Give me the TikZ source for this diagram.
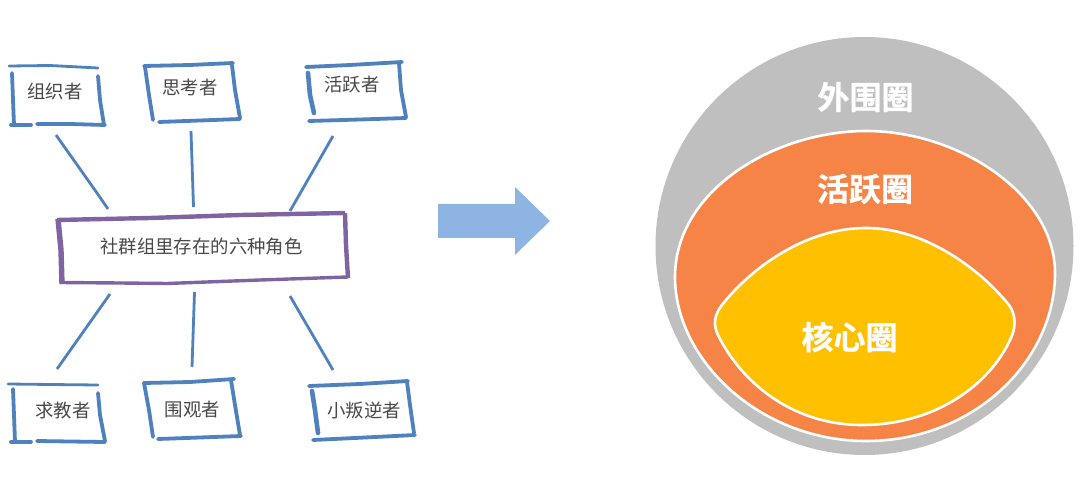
\documentclass[tikz,border=0pt]{standalone}
\usepackage{fontspec}
\newfontfamily\cjk{Noto Sans CJK SC}
\newfontfamily\cjkb[FakeBold=0.8]{Noto Sans CJK SC Bold}
\definecolor{skblue}{HTML}{4F81BD}
\definecolor{skpurple}{HTML}{8064A2}
\definecolor{ringgray}{HTML}{BFBFBF}
\definecolor{ringorange}{HTML}{F68446}
\definecolor{ringgold}{HTML}{FFC000}
\definecolor{arrowblue}{HTML}{8EB4E3}
\definecolor{labeltext}{HTML}{484848}
\tikzset{
  role/.style={font=\cjk\fontsize{18.4}{18.4}\selectfont,text=labeltext,inner sep=0pt},
  ringlabel/.style={font=\cjkb\fontsize{32}{32}\selectfont,text=white,inner sep=0pt},
  sk/.style={draw=skblue,line width=3.8pt,line cap=round,line join=round},
  skthin/.style={draw=skblue,line width=2.8pt,line cap=round,line join=round},
  skfat/.style={draw=skblue,line width=4.6pt,line cap=round,line join=round},
  skp/.style={draw=skpurple,line width=4.4pt,line join=round},
  skpfat/.style={draw=skpurple,line width=5.4pt,line join=round},
  skpthin/.style={draw=skpurple,line width=3.4pt,line join=round},
  link/.style={draw=skblue,line width=2.8pt,line cap=butt,line join=round},
  ring/.style={draw=white,line width=2.6pt}
}
\begin{document}
\begin{tikzpicture}[x=1pt,y=-1pt]
\useasboundingbox (0,0) rectangle (1080,481);
% link end points
\coordinate (o1) at (56,135);  \coordinate (h1) at (108,209);
\coordinate (t1) at (191,131); \coordinate (h2) at (193.5,207);
\coordinate (a1) at (333,136); \coordinate (h3) at (290,211);
\coordinate (h4) at (110,294); \coordinate (q1) at (57,369);
\coordinate (h5) at (194.5,292); \coordinate (w1) at (192,367);
\coordinate (h6) at (290,296); \coordinate (r1) at (333,370);
% box 组织者
\draw[skthin] (9,66) -- (50,65.5) -- (98,68);
\draw[sk] (12,73) -- (13,100) -- (14,125);
\draw[sk] (11,125) -- (31,125);
\draw[sk] (37,124) -- (70,124) -- (105,125);
\draw[sk] (98,76) -- (100,100) -- (104,125);
% box 思考者
\draw[sk] (144,66) -- (190,65) -- (233,63);
\draw[sk] (145,67) -- (149,95) -- (153,120);
\draw[sk] (159,122) -- (200,120.5) -- (240,119);
\draw[sk] (232,65) -- (235,90) -- (240,118);
% box 活跃者
\draw[sk] (306,67) -- (350,65) -- (402,62);
\draw[skfat] (308,73) -- (310,95) -- (314,113);
\draw[sk] (309,121) -- (360,119.5) -- (406,118);
\draw[sk] (399,63) -- (401,90) -- (406,117);
% hub
\draw[skp] (57,220) -- (150,218) -- (240,215) -- (345,213);
\draw[skpfat] (58,219) -- (61,250) -- (62,284);
\draw[skpthin] (60,282.5) -- (120,283) -- (167,283.5) -- (260,280) -- (348,277);
\draw[skp] (345,213) -- (346,245) -- (348,278);
% box 求教者
\draw[skthin] (8,384) -- (50,384.5) -- (98,385);
\draw[sk] (13,389) -- (14,415) -- (15,442);
\draw[sk] (11,442) -- (31,442);
\draw[sk] (37,441) -- (70,441.5) -- (105,442);
\draw[sk] (98,393) -- (100,415) -- (105,441);
% box 围观者
\draw[sk] (144,383) -- (190,382) -- (234,379);
\draw[sk] (144,383) -- (149,410) -- (153,437);
\draw[sk] (158,439) -- (200,437.5) -- (241,436);
\draw[sk] (231,380) -- (235,405) -- (240,435);
% box 小叛逆者
\draw[sk] (309,386) -- (360,384) -- (408,381);
\draw[skfat] (312,391) -- (315,410) -- (318,433);
\draw[sk] (313,440) -- (365,437.5) -- (415,435);
\draw[sk] (407,382) -- (410,405) -- (414,433);
% labels
\node[role] (org) at (55,92) {组织者};
\node[role] (thk) at (190,88) {思考者};
\node[role] (act) at (352,85) {活跃者};
\node[role] (hub) at (201.5,247) {社群组里存在的六种角色};
\node[role] (ask) at (63,411) {求教者};
\node[role] (wat) at (192.5,410) {围观者};
\node[role] (reb) at (364,410) {小叛逆者};
% links
\draw[link] (o1) -- (97,193) -- (h1);
\draw[link] (t1) -- (h2);
\draw[link] (a1) -- (h3);
\draw[link] (h4) -- (q1);
\draw[link] (h5) -- (w1);
\draw[link] (h6) -- (r1);
% arrow
\fill[arrowblue] (438,204) -- (515,204) -- (515,187) -- (550,221) -- (515,255) -- (515,238) -- (438,238) -- cycle;
% rings
\fill[ringgray] (864.5,246) circle (209);
\path[ring,fill=ringorange] (675,277)
  .. controls (675,190) and (775,131) .. (866,131)
  .. controls (960,131) and (1055,195) .. (1055,273)
  .. controls (1055,360) and (975,441) .. (866,441)
  .. controls (760,441) and (675,360) .. cycle;
\path[ring,fill=ringgold] (722,305)
  .. controls (745,275) and (800,228) .. (866,228)
  .. controls (930,228) and (985,275) .. (1009,305)
  .. controls (1016,314) and (1016,328) .. (1011,338)
  .. controls (990,385) and (935,425) .. (862,425)
  .. controls (790,425) and (740,380) .. (718,335)
  .. controls (713,325) and (714,315) .. (722,305) -- cycle;
\node[ringlabel] (outer) at (865.5,97) {外围圈};
\node[ringlabel] (active) at (865,189) {活跃圈};
\node[ringlabel] (core) at (849.5,337) {核心圈};
\end{tikzpicture}
\end{document}
